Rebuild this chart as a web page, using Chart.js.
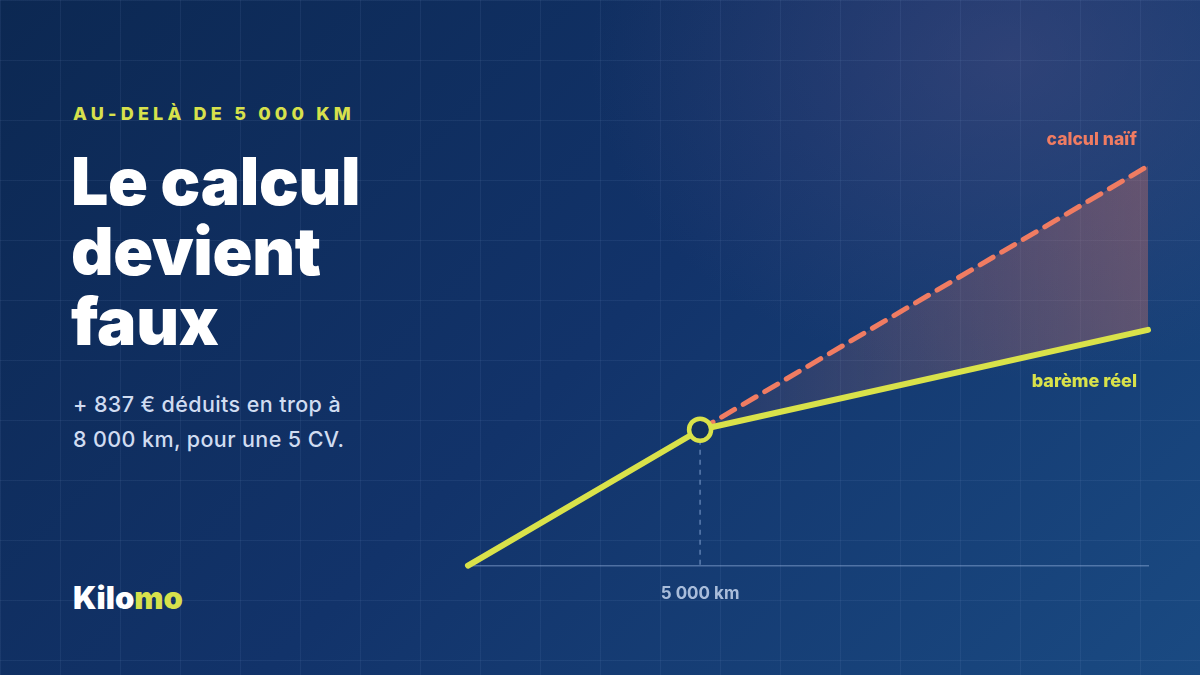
<!DOCTYPE html>
<html>
<head>
<meta charset="utf-8">
<script src="https://cdn.jsdelivr.net/npm/chart.js@4/dist/chart.umd.min.js"></script>
<style>
  html, body { margin: 0; padding: 0; }
  body {
    width: 1200px; height: 675px; overflow: hidden; position: relative;
    font-family: Inter, "Noto Sans", sans-serif;
    background:
      linear-gradient(rgba(140,170,220,0.09) 1px, transparent 1px) 0 0 / 60px 60px,
      linear-gradient(90deg, rgba(140,170,220,0.09) 1px, transparent 1px) 0 0 / 60px 60px,
      radial-gradient(ellipse 420px 320px at 1010px 60px, rgba(80,80,130,0.45), rgba(80,80,130,0) 100%),
      linear-gradient(135deg, #0c2852 0%, #12336a 50%, #1a4a82 100%);
  }
  .kicker {
    position: absolute; left: 73px; top: 103px;
    font-size: 18px; font-weight: 800; letter-spacing: 4.2px;
    color: #d7e14c;
  }
  .title {
    position: absolute; left: 71px; top: 146px;
    font-size: 66px; font-weight: 900; line-height: 70px;
    letter-spacing: -0.3px; color: #ffffff;
  }
  .sub {
    position: absolute; left: 73px; top: 387px;
    font-size: 21.5px; font-weight: 500; line-height: 35px;
    letter-spacing: 0.4px; color: #d0dcf1;
  }
  .logo {
    position: absolute; left: 73px; top: 579px;
    font-size: 31px; font-weight: 900; letter-spacing: 0px; color: #ffffff;
  }
  .logo span { color: #d7e14c; }
  #wrap { position: absolute; left: 0; top: 0; width: 1200px; height: 675px; }
</style>
</head>
<body>
<div class="kicker">AU-DELÀ DE 5 000 KM</div>
<div class="title">Le calcul<br>devient<br>faux</div>
<div class="sub">+ 837 € déduits en trop à<br>8 000 km, pour une 5 CV.</div>
<div class="logo">Kilo<span>mo</span></div>
<div id="wrap"><canvas id="c" width="1200" height="675"></canvas></div>
<script>
const km = [0, 5000, 14650];
const bareme = [0, 136, 236];
const naif = [null, 136, 400];
const tickKm = [5000];
const tickLabels = ['5 000 km'];

const yellow = '#d9e24a';
const coral = '#f07c62';

const extras = {
  id: 'extras',
  beforeDatasetsDraw(chart) {
    const ctx = chart.ctx;
    const x = chart.scales.x.getPixelForValue(km[1]);
    const y = chart.scales.y.getPixelForValue(bareme[1]);
    const base = chart.scales.y.getPixelForValue(0);
    ctx.save();
    ctx.strokeStyle = 'rgba(150,180,225,0.55)';
    ctx.lineWidth = 1.5;
    ctx.setLineDash([5, 5]);
    ctx.beginPath();
    ctx.moveTo(x, y);
    ctx.lineTo(x, base);
    ctx.stroke();
    ctx.restore();
  },
  afterDatasetsDraw(chart) {
    const ctx = chart.ctx;
    const area = chart.chartArea;
    ctx.save();
    ctx.textAlign = 'right';
    ctx.textBaseline = 'middle';
    ctx.font = '800 17.5px Inter, sans-serif';
    ctx.fillStyle = coral;
    ctx.fillText('calcul naïf', area.right - 11, chart.scales.y.getPixelForValue(naif[2]) - 26);
    ctx.font = '800 18px Inter, sans-serif';
    ctx.fillStyle = yellow;
    ctx.fillText('barème réel', area.right - 11, chart.scales.y.getPixelForValue(bareme[2]) + 52);
    ctx.restore();
  }
};

new Chart(document.getElementById('c'), {
  type: 'line',
  data: {
    labels: km,
    datasets: [
      {
        label: 'barème réel',
        data: km.map((k, i) => ({ x: k, y: bareme[i] })),
        borderColor: yellow,
        borderWidth: 6,
        borderCapStyle: 'round',
        borderJoinStyle: 'round',
        pointRadius: [0, 11, 0],
        pointBorderWidth: 4.5,
        pointBorderColor: yellow,
        pointBackgroundColor: '#12325f',
        pointHoverRadius: [0, 11, 0],
        fill: false,
        order: 1,
        clip: false
      },
      {
        label: 'calcul naïf',
        data: km.map((k, i) => ({ x: k, y: naif[i] })),
        borderColor: coral,
        borderWidth: 5,
        borderDash: [15, 10],
        borderCapStyle: 'round',
        pointRadius: 0,
        fill: { target: 0 },
        backgroundColor(context) {
          const chart = context.chart;
          const area = chart.chartArea;
          if (!area) return 'rgba(240,124,98,0.2)';
          const x0 = chart.scales.x.getPixelForValue(km[1]);
          const g = chart.ctx.createLinearGradient(x0, 0, area.right, 0);
          g.addColorStop(0, 'rgba(240,124,98,0.06)');
          g.addColorStop(1, 'rgba(240,124,98,0.32)');
          return g;
        },
        order: 2,
        clip: false
      }
    ]
  },
  options: {
    responsive: false,
    animation: false,
    events: [],
    layout: { padding: { left: 468, right: 52, top: 166, bottom: 53 } },
    plugins: { legend: { display: false }, tooltip: { enabled: false } },
    scales: {
      x: {
        type: 'linear',
        min: km[0],
        max: km[2],
        afterBuildTicks(scale) { scale.ticks = tickKm.map(v => ({ value: v })); },
        grid: { display: false, drawTicks: false },
        border: { display: true, color: 'rgba(150,180,225,0.45)', width: 1.5 },
        ticks: {
          padding: 18,
          color: '#a9bddb',
          font: { family: 'Inter', size: 17, weight: '700' },
          callback: (v) => tickLabels[tickKm.indexOf(v)]
        }
      },
      y: {
        display: false,
        min: 0,
        max: 400
      }
    }
  },
  plugins: [extras]
});
</script>
</body>
</html>
